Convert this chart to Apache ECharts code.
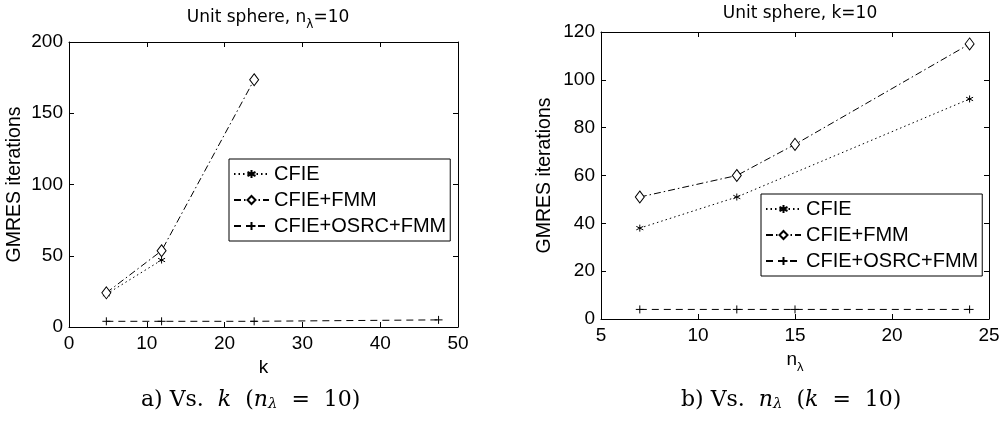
<!DOCTYPE html>
<html>
<head>
<meta charset="utf-8">
<script src="https://cdn.jsdelivr.net/npm/echarts@6/dist/echarts.min.js"></script>
<style>
html,body{margin:0;padding:0;background:#fff;}
#c{width:1003px;height:428px;}
</style>
</head>
<body>
<div id="c"></div>
<script>
// ---- Data ----
var seriesNames = ['CFIE', 'CFIE+FMM', 'CFIE+OSRC+FMM'];

// Left panel: vs k (n_lambda = 10)
var kCfie = [4.8, 11.9];
var cfieVsK = [23, 47];
var kFmm = [4.8, 11.9, 23.8];
var fmmVsK = [24, 53.5, 173.5];
var kOsrc = [4.8, 11.9, 23.8, 47.5];
var osrcVsK = [4, 4, 4, 5];

// Right panel: vs n_lambda (k = 10)
var nCfie = [7, 12, 24];
var cfieVsN = [38, 51, 92];
var nFmm = [7, 12, 15, 24];
var fmmVsN = [51, 60, 73, 115];
var nOsrc = [7, 12, 15, 24];
var osrcVsN = [4, 4, 4, 4];

function pairs(xs, ys) { return xs.map(function (x, i) { return [x, ys[i]]; }); }

var FONT = 'Liberation Sans, Arial, sans-serif';
var TFONT = 'DejaVu Sans, sans-serif';
var SERIF = 'DejaVu Serif, serif';
var starPath = 'path://M0,-5L0,5M-4.33,-2.5L4.33,2.5M-4.33,2.5L4.33,-2.5';
var plusPath = 'path://M0,-5L0,5M-5,0L5,0';

var styles = [
  { type: [1.5, 3], symbol: starPath, size: 7, fill: 'none' },
  { type: [7, 3, 1.5, 3], symbol: 'diamond', size: [9, 12], fill: '#fff' },
  { type: [7, 5], symbol: plusPath, size: 8, fill: 'none' }
];

function mkSeries(idx, name, data, xi) {
  var s = styles[idx];
  return {
    type: 'line', name: name, data: data, xAxisIndex: xi, yAxisIndex: xi,
    symbol: s.symbol, symbolSize: s.size, showAllSymbol: true,
    lineStyle: { color: '#000', width: 1, type: s.type },
    itemStyle: { color: s.fill, borderColor: '#000', borderWidth: 1 },
    emphasis: { disabled: true }, animation: false, z: 3
  };
}

var tickStyle = { color: '#000', fontSize: 19, fontFamily: FONT };

function mainX(gi, min, max, interval, name, nameGap, rich) {
  return {
    type: 'value', gridIndex: gi, min: min, max: max, interval: interval, position: 'bottom',
    axisLine: { show: true, onZero: false, lineStyle: { color: '#000', width: 1 } },
    axisTick: { show: true, inside: true, length: 5, lineStyle: { color: '#000' } },
    axisLabel: Object.assign({ margin: 7 }, tickStyle),
    splitLine: { show: false },
    name: name, nameLocation: 'middle', nameGap: nameGap,
    nameTextStyle: { color: '#000', fontSize: 19, fontFamily: FONT, rich: rich || {} }
  };
}
function topX(gi, min, max, interval) {
  return {
    type: 'value', gridIndex: gi, min: min, max: max, interval: interval, position: 'top',
    axisLine: { show: true, onZero: false, lineStyle: { color: '#000', width: 1 } },
    axisTick: { show: true, inside: true, length: 5, lineStyle: { color: '#000' } },
    axisLabel: { show: false }, splitLine: { show: false }
  };
}
function mainY(gi, min, max, interval, nameGap) {
  return {
    type: 'value', gridIndex: gi, min: min, max: max, interval: interval, position: 'left',
    axisLine: { show: true, onZero: false, lineStyle: { color: '#000', width: 1 } },
    axisTick: { show: true, inside: true, length: 5, lineStyle: { color: '#000' } },
    axisLabel: Object.assign({ margin: 6 }, tickStyle),
    splitLine: { show: false },
    name: 'GMRES iterations', nameLocation: 'middle', nameGap: nameGap, nameRotate: 90,
    nameTextStyle: { color: '#000', fontSize: 19.5, fontFamily: FONT }
  };
}
function rightY(gi, min, max, interval) {
  return {
    type: 'value', gridIndex: gi, min: min, max: max, interval: interval, position: 'right',
    axisLine: { show: true, onZero: false, lineStyle: { color: '#000', width: 1 } },
    axisTick: { show: true, inside: true, length: 5, lineStyle: { color: '#000' } },
    axisLabel: { show: false }, splitLine: { show: false }
  };
}

function mkLegend(left, top) {
  return {
    data: seriesNames.map(function (n) { return { name: n }; }), left: left, top: top,
    orient: 'vertical', itemWidth: 35, itemHeight: 10, itemGap: 6, padding: [5, 4, 5, 4],
    borderColor: '#000', borderWidth: 1, backgroundColor: '#fff', selectedMode: false,
    textStyle: { color: '#000', fontSize: 20, fontFamily: FONT }, z: 10
  };
}

var capRich = {
  i: { fontStyle: 'italic', fontSize: 22, fontFamily: SERIF, color: '#000' },
  s: { fontStyle: 'italic', fontSize: 15, fontFamily: SERIF, color: '#000', padding: [9, 0, 0, 0] }
};

var chart = echarts.init(document.getElementById('c'), null, { renderer: 'canvas' });
chart.setOption({
  animation: false,
  backgroundColor: '#fff',
  title: [
    { text: 'Unit sphere, n{sub|λ}=10', left: 263, top: 0, textAlign: 'center',
      textStyle: { color: '#000', fontSize: 17, fontWeight: 'normal', fontFamily: TFONT, rich: { sub: { fontSize: 12, color: '#000', fontFamily: TFONT, padding: [14, 0, 0, 0] } } } },
    { text: 'Unit sphere, k=10', left: 795, top: 0, textAlign: 'center',
      textStyle: { color: '#000', fontSize: 17, fontWeight: 'normal', fontFamily: TFONT } }
  ],
  grid: [
    { left: 69, right: 545, top: 42, bottom: 101, containLabel: false },
    { left: 601, right: 14, top: 32, bottom: 109, containLabel: false }
  ],
  xAxis: [
    mainX(0, 0, 50, 10, 'k', 26),
    mainX(1, 5, 25, 5, 'n{sub|λ}', 20, { sub: { fontSize: 13, color: '#000', fontFamily: FONT, padding: [16, 0, 0, 0] } }),
    topX(0, 0, 50, 10),
    topX(1, 5, 25, 5)
  ],
  yAxis: [
    mainY(0, 0, 200, 50, 44),
    mainY(1, 0, 120, 20, 46),
    rightY(0, 0, 200, 50),
    rightY(1, 0, 120, 20)
  ],
  legend: [ mkLegend(229, 159), mkLegend(761, 194) ],
  series: [
    mkSeries(0, 'CFIE', pairs(kCfie, cfieVsK), 0),
    mkSeries(1, 'CFIE+FMM', pairs(kFmm, fmmVsK), 0),
    mkSeries(2, 'CFIE+OSRC+FMM', pairs(kOsrc, osrcVsK), 0),
    mkSeries(0, 'CFIE', pairs(nCfie, cfieVsN), 1),
    mkSeries(1, 'CFIE+FMM', pairs(nFmm, fmmVsN), 1),
    mkSeries(2, 'CFIE+OSRC+FMM', pairs(nOsrc, osrcVsN), 1)
  ],
  graphic: [
    { type: 'text', left: 141, top: 389, style: { text: 'a) Vs.  {i|k}  ({i|n}{s|λ}  =  10)', fill: '#000', font: '22px ' + SERIF, rich: capRich } },
    { type: 'text', left: 681, top: 389, style: { text: 'b) Vs.  {i|n}{s|λ}  ({i|k}  =  10)', fill: '#000', font: '22px ' + SERIF, rich: capRich } }
  ]
});
</script>
</body>
</html>
